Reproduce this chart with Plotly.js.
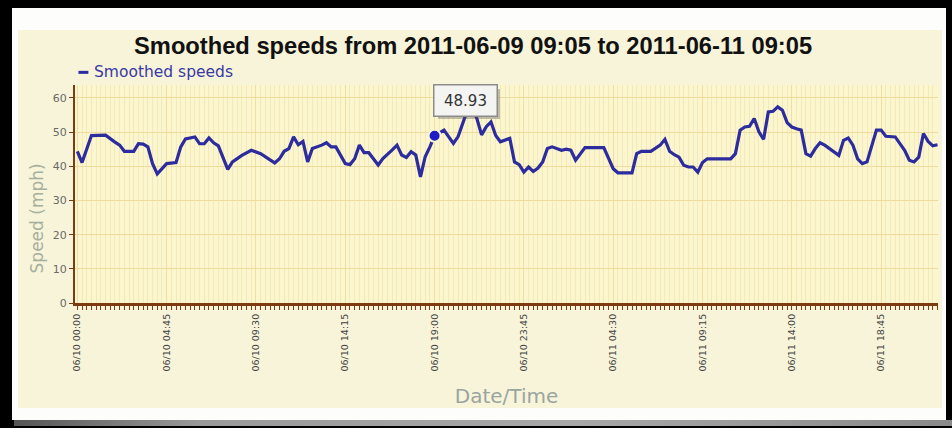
<!DOCTYPE html>
<html>
<head>
<meta charset="utf-8">
<script src="https://cdn.plot.ly/plotly-3.0.1.min.js"></script>
<style>
  html, body { margin: 0; padding: 0; background: #000; width: 952px; height: 428px; overflow: hidden; }
  #panel { position: absolute; left: 12px; top: 8px; width: 934px; height: 412px; background: #fdfdfb; }
  #shade { position: absolute; left: 14px; top: 420px; width: 938px; height: 6px;
           background: linear-gradient(to right, #555 0%, #9a9a9a 20%, #a8a8a8 60%, #8a8a8a 100%); }
  #chart { position: absolute; left: 18px; top: 30px; width: 924px; height: 378px; }
</style>
</head>
<body>
<div id="panel"></div>
<div id="shade"></div>
<div id="chart"></div>
<script>
// ---- data (15-minute slots) ----
const times = [
  '2011-06-10 00:00','2011-06-10 00:15','2011-06-10 00:45','2011-06-10 01:30','2011-06-10 02:00','2011-06-10 02:15',
  '2011-06-10 02:30','2011-06-10 03:00','2011-06-10 03:15','2011-06-10 03:30','2011-06-10 03:45','2011-06-10 04:00',
  '2011-06-10 04:15','2011-06-10 04:45','2011-06-10 05:15','2011-06-10 05:30','2011-06-10 05:45','2011-06-10 06:15',
  '2011-06-10 06:30','2011-06-10 06:45','2011-06-10 07:00','2011-06-10 07:15','2011-06-10 07:30','2011-06-10 07:45',
  '2011-06-10 08:00','2011-06-10 08:15','2011-06-10 08:45','2011-06-10 09:15','2011-06-10 09:45','2011-06-10 10:15',
  '2011-06-10 10:30','2011-06-10 10:45','2011-06-10 11:00','2011-06-10 11:15','2011-06-10 11:30','2011-06-10 11:45',
  '2011-06-10 12:00','2011-06-10 12:15','2011-06-10 12:30','2011-06-10 13:00','2011-06-10 13:15','2011-06-10 13:30',
  '2011-06-10 13:45','2011-06-10 14:15','2011-06-10 14:30','2011-06-10 14:45','2011-06-10 15:00','2011-06-10 15:15',
  '2011-06-10 15:30','2011-06-10 16:00','2011-06-10 16:15','2011-06-10 16:45','2011-06-10 17:00','2011-06-10 17:15',
  '2011-06-10 17:30','2011-06-10 17:45','2011-06-10 18:00','2011-06-10 18:15','2011-06-10 18:30','2011-06-10 18:45',
  '2011-06-10 19:00','2011-06-10 19:30','2011-06-10 20:00','2011-06-10 20:15','2011-06-10 20:30','2011-06-10 20:45',
  '2011-06-10 21:00','2011-06-10 21:15','2011-06-10 21:30','2011-06-10 21:45','2011-06-10 22:00','2011-06-10 22:15',
  '2011-06-10 22:30','2011-06-10 22:45','2011-06-10 23:00','2011-06-10 23:15','2011-06-10 23:30','2011-06-10 23:45',
  '2011-06-11 00:00','2011-06-11 00:15','2011-06-11 00:30','2011-06-11 00:45','2011-06-11 01:00','2011-06-11 01:15',
  '2011-06-11 01:45','2011-06-11 02:00','2011-06-11 02:15','2011-06-11 02:30','2011-06-11 03:00','2011-06-11 04:00',
  '2011-06-11 04:30','2011-06-11 04:45','2011-06-11 05:30','2011-06-11 05:45','2011-06-11 06:00','2011-06-11 06:30',
  '2011-06-11 06:45','2011-06-11 07:00','2011-06-11 07:15','2011-06-11 07:30','2011-06-11 07:45','2011-06-11 08:00',
  '2011-06-11 08:15','2011-06-11 08:30','2011-06-11 08:45','2011-06-11 09:00','2011-06-11 09:15','2011-06-11 09:30',
  '2011-06-11 10:45','2011-06-11 11:00','2011-06-11 11:15','2011-06-11 11:30','2011-06-11 11:45','2011-06-11 12:00',
  '2011-06-11 12:15','2011-06-11 12:30','2011-06-11 12:45','2011-06-11 13:00','2011-06-11 13:15','2011-06-11 13:30',
  '2011-06-11 13:45','2011-06-11 14:00','2011-06-11 14:15','2011-06-11 14:30','2011-06-11 14:45','2011-06-11 15:00',
  '2011-06-11 15:15','2011-06-11 15:30','2011-06-11 15:45','2011-06-11 16:15','2011-06-11 16:30','2011-06-11 16:45',
  '2011-06-11 17:00','2011-06-11 17:15','2011-06-11 17:30','2011-06-11 17:45','2011-06-11 18:00','2011-06-11 18:30',
  '2011-06-11 18:45','2011-06-11 19:00','2011-06-11 19:30','2011-06-11 20:00','2011-06-11 20:15','2011-06-11 20:30',
  '2011-06-11 20:45','2011-06-11 21:00','2011-06-11 21:15','2011-06-11 21:30','2011-06-11 21:45'
];
const speeds = [
  44.4, 41.1, 49.0, 49.1, 47.1, 46.2,
  44.4, 44.4, 46.6, 46.5, 45.7, 40.8,
  37.8, 40.8, 41.1, 45.7, 48.0, 48.6,
  46.6, 46.6, 48.3, 46.9, 46.0, 42.5,
  39.1, 41.3, 43.2, 44.7, 43.7, 41.9,
  41.0, 42.2, 44.4, 45.2, 48.6, 46.3,
  47.3, 41.3, 45.2, 46.2, 46.9, 45.7,
  45.7, 40.8, 40.5, 42.2, 46.2, 44.0,
  44.0, 40.4, 42.3, 44.8, 46.2, 43.3,
  42.6, 44.3, 43.3, 36.9, 42.8, 45.7,
  48.93, 50.6, 46.7, 48.7, 52.6, 56.5,
  56.8, 54.0, 49.2, 51.6, 53.0, 49.0,
  47.2, 47.7, 48.2, 41.3, 40.5, 38.3,
  39.8, 38.5, 39.5, 41.3, 45.2, 45.7,
  44.7, 45.0, 44.7, 41.8, 45.5, 45.5,
  39.3, 38.1, 38.1, 43.7, 44.4, 44.4,
  45.2, 46.2, 47.9, 44.4, 43.4, 42.7,
  40.3, 39.8, 39.8, 38.3, 41.1, 42.2,
  42.2, 43.7, 50.6, 51.5, 51.7, 54.0,
  50.1, 47.9, 55.9, 56.1, 57.4, 56.4,
  52.8, 51.5, 51.0, 50.6, 43.7, 43.0,
  45.2, 46.9, 46.2, 44.2, 43.2, 47.6,
  48.3, 46.2, 42.2, 40.8, 41.3, 50.6,
  50.6, 48.8, 48.6, 44.7, 41.8, 41.3,
  42.7, 49.6, 47.3, 46.0, 46.3
];
const tickTimes = ['2011-06-10 00:00','2011-06-10 04:45','2011-06-10 09:30','2011-06-10 14:15','2011-06-10 19:00',
                   '2011-06-10 23:45','2011-06-11 04:30','2011-06-11 09:15','2011-06-11 14:00','2011-06-11 18:45'];
const tickLabels = ['06/10 00:00','06/10 04:45','06/10 09:30','06/10 14:15','06/10 19:00',
                    '06/10 23:45','06/11 04:30','06/11 09:15','06/11 14:00','06/11 18:45'];
const yTicks = [0, 10, 20, 30, 40, 50, 60];
const hoverTime = ['2011-06-10 19:00'];
const hoverSpeed = [48.93];
const seriesName = 'Smoothed speeds';
const chartTitle = 'Smoothed speeds from 2011-06-09 09:05 to 2011-06-11 09:05';

const FONT = 'DejaVu Sans, Verdana, sans-serif';
const BROWN = '#7d3b12';
const SERIES_COLOR = '#2c2c9e';

const traces = [
  { x: times, y: speeds, type: 'scatter', mode: 'lines', name: seriesName,
    line: { color: SERIES_COLOR, width: 3.2 }, hoverinfo: 'x+y' },
  { x: hoverTime, y: hoverSpeed, type: 'scatter', mode: 'markers', showlegend: false,
    marker: { size: 12, color: '#1e1ec4', line: { color: '#fbf5cf', width: 2 } }, hoverinfo: 'skip' }
];

const layout = {
  width: 924, height: 378,
  margin: { l: 57, r: 4, t: 55, b: 105 },
  paper_bgcolor: '#f7f4d9',
  plot_bgcolor: '#fcf6cf',
  showlegend: false,
  title: { text: '<b>' + chartTitle + '</b>', x: 0.4925, xanchor: 'center', y: 0.958, yanchor: 'middle',
           font: { family: 'Liberation Sans, Arial, sans-serif', size: 23.7, color: '#111' } },
  xaxis: {
    type: 'date',
    range: ['2011-06-09 23:52:30', '2011-06-11 21:46:30'],
    tickmode: 'array', tickvals: tickTimes, ticktext: tickLabels,
    tickangle: -90, tickfont: { family: FONT, size: 9.5, color: '#444' },
    ticks: 'outside', ticklen: 4, tickcolor: BROWN, tickwidth: 1,
    showline: true, linecolor: BROWN, linewidth: 3,
    showgrid: true, gridcolor: '#efdfa3', gridwidth: 1,
    minor: { dtick: 900000, ticks: 'outside', ticklen: 4, tickcolor: BROWN, tickwidth: 1,
             showgrid: true, gridcolor: '#f4e9bb', gridwidth: 1 },
    zeroline: false, fixedrange: true,
    title: { text: 'Date/Time', font: { family: FONT, size: 20, color: '#9aa4a0' }, standoff: 19 }
  },
  yaxis: {
    range: [0, 63.8],
    tickmode: 'array', tickvals: yTicks,
    tickfont: { family: FONT, size: 11, color: '#6a6a6a' },
    ticks: 'outside', ticklen: 4, tickcolor: BROWN,
    showline: true, linecolor: BROWN, linewidth: 2,
    showgrid: true, gridcolor: '#efdb9c', gridwidth: 1,
    zeroline: false, fixedrange: true
  },
  shapes: [
    { type: 'line', xref: 'paper', yref: 'paper', x0: 0.004, x1: 0.0155, y0: 1.058, y1: 1.058,
      line: { color: SERIES_COLOR, width: 3 } }
  ],
  annotations: [
    { xref: 'paper', yref: 'paper', x: -0.044, y: 0.388, text: 'Speed (mph)', textangle: -90,
      showarrow: false, xanchor: 'center', yanchor: 'middle',
      font: { family: FONT, size: 17, color: '#a6b09e' } },
    { xref: 'paper', yref: 'paper', x: 0.0195, y: 1.06, text: seriesName,
      showarrow: false, xanchor: 'left', yanchor: 'middle',
      font: { family: FONT, size: 15.5, color: '#3a3aa6' } },
    { x: hoverTime[0], y: hoverSpeed[0], xref: 'x', yref: 'y', text: ' ', showarrow: false,
      xshift: 34, yshift: 32, width: 60, height: 28, bgcolor: 'rgba(80,80,80,0.35)', borderwidth: 0 },
    { x: hoverTime[0], y: hoverSpeed[0], xref: 'x', yref: 'y', text: String(hoverSpeed[0]), showarrow: false,
      xshift: 31, yshift: 35, width: 60, height: 28, align: 'center', valign: 'middle',
      bgcolor: '#f4f4f2', bordercolor: '#8c8c8c', borderwidth: 1.5, borderpad: 1,
      font: { family: FONT, size: 15, color: '#333' } }
  ]
};

Plotly.newPlot('chart', traces, layout, { displayModeBar: false, staticPlot: true });
</script>
</body>
</html>
